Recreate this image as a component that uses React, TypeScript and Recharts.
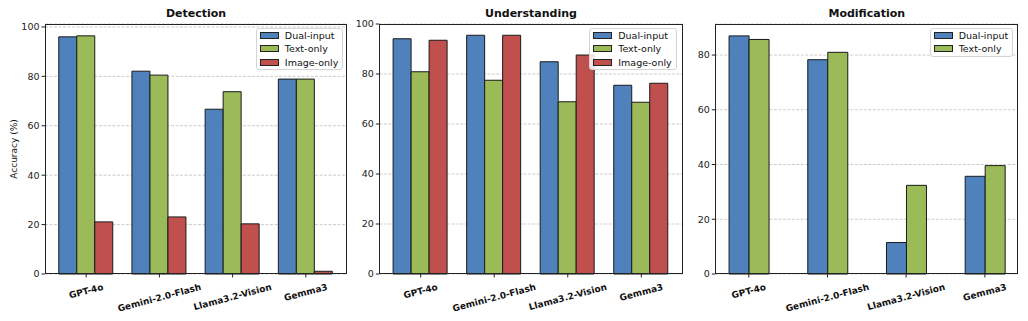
import { BarChart, Bar, XAxis, YAxis, CartesianGrid, Legend } from "recharts"

const categories = ["GPT-4o", "Gemini-2.0-Flash", "Llama3.2-Vision", "Gemma3"]

const detectionDual = [96.0, 82.1, 66.7, 78.9]
const detectionText = [96.4, 80.5, 73.8, 78.9]
const detectionImage = [21.1, 23.1, 20.3, 1.1]

const understandingDual = [94.1, 95.5, 84.9, 75.5]
const understandingText = [80.9, 77.5, 68.9, 68.7]
const understandingImage = [93.5, 95.5, 87.6, 76.3]

const modificationDual = [87.0, 78.3, 11.5, 35.7]
const modificationText = [85.7, 81.0, 32.4, 39.6]

const ticksTo100 = [0, 20, 40, 60, 80, 100]
const ticksTo80 = [0, 20, 40, 60, 80]

const BLUE = "#4f81bd"
const GREEN = "#9bbb59"
const RED = "#c0504d"
const FONT = '"DejaVu Sans", sans-serif'

let ctx: CanvasRenderingContext2D | null = null
function textWidth(t: string, font: string) {
  if (!ctx) ctx = document.createElement("canvas").getContext("2d")
  if (!ctx) return t.length * 6
  ctx.font = font
  return ctx.measureText(t).width
}

// rotated category label, top of rotated box just below the tick
const XTick = ({ x, y, payload }: any) => {
  const fs = 9
  const L = textWidth(payload.value, `bold ${fs}px "DejaVu Sans"`)
  const a = (15 * Math.PI) / 180
  const bh = L * Math.sin(a) + fs * Math.cos(a)
  const cy = y + 2.8 + bh / 2
  return (
    <text
      x={x}
      y={cy}
      transform={`rotate(-15, ${x}, ${cy})`}
      textAnchor="middle"
      dominantBaseline="central"
      fontWeight="bold"
      fontSize={fs}
      fill="#111"
      fontFamily={FONT}
    >
      {payload.value}
    </text>
  )
}

type Series = { name: string; values: number[]; color: string }

const LegendBox = ({ series }: { series: Series[] }) => (
  <div
    style={{
      border: "1px solid #d4d4d4",
      borderRadius: 3,
      background: "rgba(255,255,255,0.85)",
      padding: "0px 4px 0px 3px",
      fontSize: 9.5,
      fontFamily: FONT,
      color: "#111",
    }}
  >
    {series.map((s) => (
      <div key={s.name} style={{ display: "flex", alignItems: "center", height: 13.3 }}>
        <div
          style={{
            width: 19,
            height: 7,
            boxSizing: "border-box",
            background: s.color,
            border: "1px solid #222",
            marginRight: 6,
          }}
        />
        <span style={{ whiteSpace: "nowrap" }}>{s.name}</span>
      </div>
    ))}
  </div>
)

type PanelProps = {
  title: string
  left: number
  width: number
  yAxisWidth: number
  marginRight: number
  domainMax: number
  ticks: number[]
  xPad: number
  gap: string
  legendRight: number
  series: Series[]
}

const TOP = 24
const BOTTOM = 274
const H = 321

function Panel({ title, left, width, yAxisWidth, marginRight, domainMax, ticks, xPad, gap, legendRight, series }: PanelProps) {
  const data = categories.map((c, i) => {
    const row: any = { name: c }
    series.forEach((s) => (row[s.name] = s.values[i]))
    return row
  })
  const plotLeft = yAxisWidth
  const plotWidth = width - yAxisWidth - marginRight
  return (
    <div style={{ position: "absolute", left, top: 0, width, height: H }}>
      <div
        style={{
          position: "absolute",
          left: plotLeft,
          width: plotWidth,
          top: 5,
          textAlign: "center",
          fontWeight: "bold",
          fontSize: 11,
          lineHeight: "18px",
          fontFamily: FONT,
          color: "#111",
        }}
      >
        {title}
      </div>
      <BarChart
        width={width}
        height={H}
        data={data}
        margin={{ top: TOP, right: marginRight, left: 0, bottom: 0 }}
        barCategoryGap={gap}
        barGap={0}
      >
        <CartesianGrid vertical={false} strokeDasharray="3 1.5" stroke="#cccccc" />
        <XAxis
          dataKey="name"
          height={H - BOTTOM}
          padding={{ left: xPad, right: xPad }}
          axisLine={false}
          tickLine={{ stroke: "#222" }}
          tickSize={3.5}
          tickMargin={2}
          interval={0}
          tick={<XTick />}
        />
        <YAxis
          width={yAxisWidth}
          domain={[0, domainMax]}
          ticks={ticks}
          axisLine={false}
          tickLine={{ stroke: "#222" }}
          tickSize={3.5}
          tickMargin={2}
          tick={{ fontSize: 9.5, fill: "#222", fontFamily: FONT }}
        />
        <Legend
          layout="vertical"
          align="center"
          verticalAlign="middle"
          wrapperStyle={{ top: 28, right: legendRight, left: "auto", width: "auto" }}
          content={() => <LegendBox series={series} />}
        />
        {series.map((s) => (
          <Bar
            key={s.name}
            dataKey={s.name}
            name={s.name}
            fill={s.color}
            stroke="#1a1a1a"
            strokeWidth={1}
            isAnimationActive={false}
          />
        ))}
      </BarChart>
      <div
        style={{
          position: "absolute",
          left: plotLeft,
          top: TOP,
          width: plotWidth,
          height: BOTTOM - TOP,
          border: "1px solid #222",
          boxSizing: "border-box",
          pointerEvents: "none",
        }}
      />
    </div>
  )
}

export default function App() {
  return (
    <div style={{ position: "absolute", left: 0, top: 0, width: 1028, height: 321, background: "#fff", fontFamily: FONT }}>
      <div
        style={{
          position: "absolute",
          left: 14,
          top: 149,
          transform: "translate(-50%, -50%) rotate(-90deg)",
          fontSize: 9,
          color: "#111",
          whiteSpace: "nowrap",
        }}
      >
        Accuracy (%)
      </div>
      <Panel
        title="Detection"
        left={0}
        width={350}
        yAxisWidth={45}
        marginRight={3}
        domainMax={101.2}
        ticks={ticksTo100}
        xPad={4.6}
        gap="12.5%"
        legendRight={6.7}
        series={[
          { name: "Dual-input", values: detectionDual, color: BLUE },
          { name: "Text-only", values: detectionText, color: GREEN },
          { name: "Image-only", values: detectionImage, color: RED },
        ]}
      />
      <Panel
        title="Understanding"
        left={350}
        width={336}
        yAxisWidth={29.3}
        marginRight={3.3}
        domainMax={100}
        ticks={ticksTo100}
        xPad={4.6}
        gap="12.5%"
        legendRight={9.3}
        series={[
          { name: "Dual-input", values: understandingDual, color: BLUE },
          { name: "Text-only", values: understandingText, color: GREEN },
          { name: "Image-only", values: understandingImage, color: RED },
        ]}
      />
      <Panel
        title="Modification"
        left={686}
        width={342}
        yAxisWidth={29.3}
        marginRight={9.7}
        domainMax={91.35}
        ticks={ticksTo80}
        xPad={-5.9}
        gap="25%"
        legendRight={14.7}
        series={[
          { name: "Dual-input", values: modificationDual, color: BLUE },
          { name: "Text-only", values: modificationText, color: GREEN },
        ]}
      />
    </div>
  )
}
